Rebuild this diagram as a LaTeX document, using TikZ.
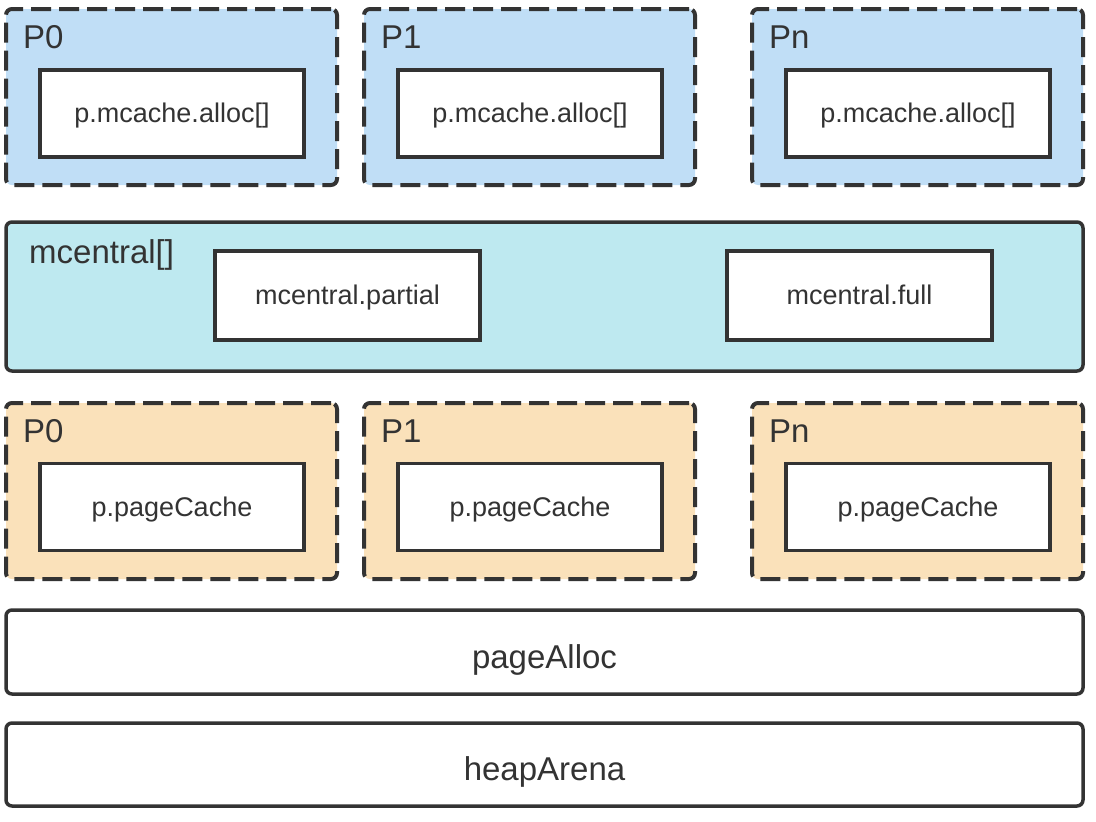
\documentclass[tikz,border=0pt]{standalone}
\usepackage{fontspec}
\setmainfont{Liberation Sans}
\usetikzlibrary{positioning}

\definecolor{ink}{RGB}{51,51,51}
\definecolor{cacheblue}{RGB}{192,222,246}
\definecolor{centralcyan}{RGB}{190,233,240}
\definecolor{pageorange}{RGB}{250,225,186}
% baseline a bit below the box centre
\newcommand{\sunk}[2][9pt]{\raisebox{-#1}[0pt][0pt]{#2}}

\begin{document}
\begin{tikzpicture}[
  x=1pt, y=-1pt,
  font=\fontsize{27}{30}\selectfont, text=ink,
  grp/.style={rectangle, rounded corners=6pt, draw=ink, line width=4pt,
              dash pattern=on 20pt off 8pt, inner sep=0pt,
              minimum width=331pt, minimum height=176pt},
  mc/.style={grp, fill=cacheblue},
  pc/.style={grp, fill=pageorange},
  box/.style={rectangle, draw=ink, line width=3.5pt, fill=white, inner sep=0pt,
              minimum width=264pt, minimum height=87pt},
  bar/.style={rectangle, rounded corners=6pt, draw=ink, line width=3.5pt, fill=white,
              inner sep=0pt, minimum width=1077pt, minimum height=84pt,
              font=\fontsize{33}{36}\selectfont},
  tag/.style={anchor=west, inner sep=0pt, font=\fontsize{33}{36}\selectfont}
]
\useasboundingbox (0,0) rectangle (1096,822);

% per-P mcache
\node[mc] (mc0) at (171.5, 97) {};
\node[mc] (mc1) at (529.5, 97) {};
\node[mc] (mcn) at (917.5, 97) {};
\node[tag] (mc0t) at (23, 37) {P0};
\node[tag] (mc1t) at (381, 37) {P1};
\node[tag] (mcnt) at (769, 37) {Pn};
\node[box] (al0) at (172, 113.5) {\sunk{p.mcache.alloc[]}};
\node[box] (al1) at (530, 113.5) {\sunk{p.mcache.alloc[]}};
\node[box] (aln) at (918, 113.5) {\sunk{p.mcache.alloc[]}};

% mcentral
\node[rectangle, rounded corners=6pt, draw=ink, line width=3.5pt, fill=centralcyan,
      inner sep=0pt, minimum width=1077pt, minimum height=149pt] (mcen) at (544.5, 296.5) {};
\node[tag] (mcent) at (29, 255) {mcentral[]};
\node[box, minimum width=265pt, minimum height=89pt] (part) at (347.5, 295.5) {\sunk{mcentral.partial}};
\node[box, minimum width=265pt, minimum height=89pt] (full) at (859.5, 295.5) {\sunk{mcentral.full}};

% per-P pageCache
\node[pc] (pc0) at (171.5, 491) {};
\node[pc] (pc1) at (529.5, 491) {};
\node[pc] (pcn) at (917.5, 491) {};
\node[tag] (pc0t) at (23, 431) {P0};
\node[tag] (pc1t) at (381, 431) {P1};
\node[tag] (pcnt) at (769, 431) {Pn};
\node[box] (pg0) at (172, 507) {\sunk{p.pageCache}};
\node[box] (pg1) at (530, 507) {\sunk{p.pageCache}};
\node[box] (pgn) at (918, 507) {\sunk{p.pageCache}};

% heap
\node[bar] (palloc) at (544.5, 652) {\sunk[16pt]{pageAlloc}};
\node[bar, minimum height=83pt] (arena) at (544.5, 764.5) {\sunk[16pt]{heapArena}};
\end{tikzpicture}
\end{document}
